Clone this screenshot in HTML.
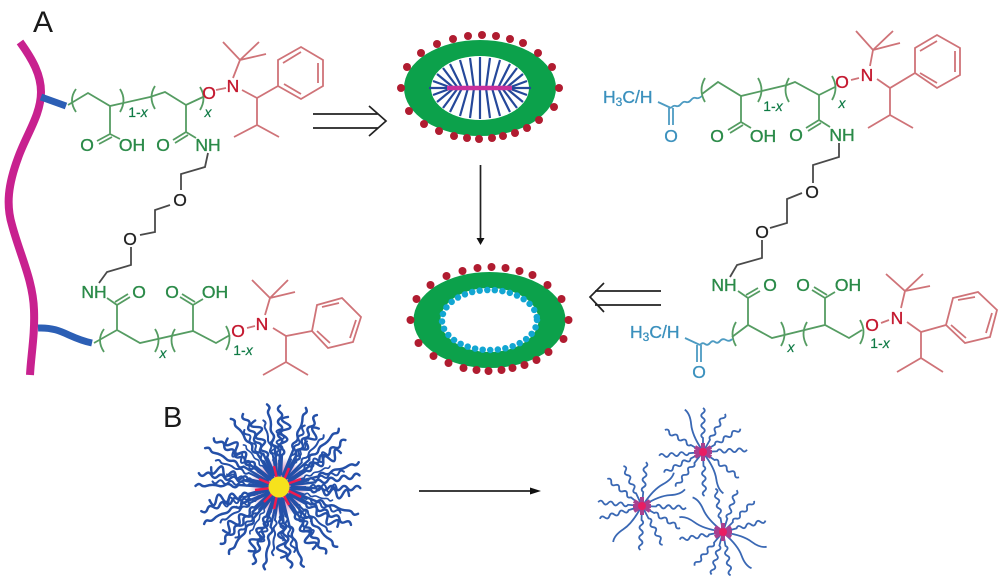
<!DOCTYPE html>
<html><head><meta charset="utf-8"><style>
html,body{margin:0;padding:0;background:#fff}
svg{display:block;filter:blur(.35px)}
text{font-family:"Liberation Sans",sans-serif}
.g{fill:none;stroke:#559c62;stroke-width:1.8}
.r{fill:none;stroke:#cf7378;stroke-width:1.8}
.b{fill:none;stroke:#4a4a4a;stroke-width:1.8}
.c{fill:none;stroke:#4d9bc2;stroke-width:1.8}
.tg{fill:#2a8a48;font-size:17.5px;text-anchor:middle;stroke:#2a8a48;stroke-width:.35}
.tr{fill:#c4182f;font-size:17.5px;text-anchor:middle;stroke:#c4182f;stroke-width:.35}
.tk{fill:#222;font-size:17.5px;text-anchor:middle;stroke:#222;stroke-width:.3}
.tc{fill:#3a90bd;font-size:17.5px;stroke:#3a90bd;stroke-width:.3}
.tx{fill:#0f7a45;font-size:14px;text-anchor:middle;stroke:#0f7a45;stroke-width:.2}
.k{fill:none;stroke:#222;stroke-width:1.7}
</style></head><body>
<svg width="1000" height="584" viewBox="0 0 1000 584" xmlns="http://www.w3.org/2000/svg">
<defs>
<path id="a" d="M12 0 L34 1 q3 -4 6 0 t6 0 t6 0 t6 0 t6 0 t6 0 t6 0"/>
<path id="b" d="M12 0 L30 -2 q3 4 6 -1 t6 1 t6 -1 t6 1 t6 -1 t6 1"/>
<path id="c" d="M12 0 L38 2 q3 -4 6 -1 t6 1 t6 -1 t6 1 t6 -1 t5 1 t5 -1"/>
<path id="s" d="M3 0 L14 0 q2.500 -3.500 5 0 t5 0 t5 0 t5 0 t5 0 t5 0"/>
<path id="t" d="M3 0 Q20 -2 30 2 T46 3"/>
<g id="dots" fill="#b01c30">
<circle cx="401" cy="88" r="4"/><circle cx="407" cy="67" r="4"/><circle cx="421" cy="53" r="4"/><circle cx="437" cy="44" r="4"/><circle cx="453" cy="39" r="4"/><circle cx="468" cy="36" r="4"/><circle cx="482" cy="35" r="4"/><circle cx="496" cy="36" r="4"/><circle cx="510" cy="39" r="4"/><circle cx="523" cy="43" r="4"/><circle cx="538" cy="53" r="4"/><circle cx="552" cy="67" r="4"/><circle cx="559" cy="88" r="4"/><circle cx="554" cy="107" r="4"/><circle cx="539" cy="120" r="4"/><circle cx="527" cy="128" r="4"/><circle cx="515" cy="133" r="4"/><circle cx="503" cy="136" r="4"/><circle cx="492" cy="138" r="4"/><circle cx="479" cy="139" r="4"/><circle cx="467" cy="138" r="4"/><circle cx="454" cy="136" r="4"/><circle cx="439" cy="131" r="4"/><circle cx="424" cy="124" r="4"/><circle cx="409" cy="111" r="4"/>
</g>
<radialGradient id="pk"><stop offset="0" stop-color="#e8206a"/><stop offset=".55" stop-color="#d9488f" stop-opacity=".6"/><stop offset="1" stop-color="#8a4aa5" stop-opacity="0"/></radialGradient>
</defs>

<text x="33" y="32" font-size="30" fill="#1a1a1a">A</text>
<text x="163" y="427" font-size="29" fill="#1a1a1a">B</text>

<!-- left backbone -->
<path d="M20 42 C33 60 41 75 41 92 C41 115 26 135 18 158 C8 185 6 205 12 225 C20 255 33 280 34 310 C35 335 31 355 30 375" fill="none" stroke="#c8218f" stroke-width="8"/>
<path d="M41 97 L66 106" fill="none" stroke="#2c5fb5" stroke-width="7"/>
<path d="M38 328 C62 327 68 338 92 343" fill="none" stroke="#2c5fb5" stroke-width="7"/>

<!-- top-left polymer -->
<path class="g" d="M68 105 L88 93 L110 106 L150 97 L165 92 L186 105 L203 97 M110 106 V134 L120 139 M110 134 L97 141 M112 137 L99 144 M186 105 V132 L196 138 M186 132 L173 140 M188 135 L175 143"/>
<path class="g" d="M76 89 Q68 100 76 112 M120 89 Q127 100 120 112 M155 86 Q148 97 155 109 M200 87 Q207 98 200 110"/>
<text class="tg" x="87" y="151">O</text><text class="tg" x="132" y="151">OH</text>
<text class="tg" x="163" y="151">O</text><text class="tg" x="208" y="151">NH</text>
<text class="tx" x="138" y="117">1-<tspan font-style="italic">x</tspan></text><text class="tx" x="208" y="117" font-style="italic">x</text>
<path class="b" d="M208 153 L205 167 L181 174 V190 M170 205 L155 210 V232 L140 235 M131 247 V265 L107 272 L99 283"/>
<text class="tk" x="180" y="206">O</text><text class="tk" x="130" y="245">O</text>
<text class="tr" x="209" y="99">O</text><text class="tr" x="233" y="92" font-size="18">N</text>
<path class="r" d="M216 90 L226 88 M233 78 L240 60 M223 42 L240 60 L259 42 M240 60 L266 54 M242 90 L257 98 L278 86 L278 60 L301 47 L323 60 L323 86 L301 99 L278 86 M283 63 L301 52 M318 63 V83 M301 94 L284 84 M257 98 V125 L234 137 M257 125 L279 137"/>

<!-- bottom-left polymer -->
<text class="tg" x="94" y="298">NH</text><text class="tg" x="139" y="298">O</text>
<text class="tg" x="172" y="298">O</text><text class="tg" x="215" y="298">OH</text>
<path class="g" d="M94 343 L117 330 L140 343 L193 331 L216 343 L230 335 M117 330 V305 L107 298 M117 305 L130 297 M115 302 L128 294 M193 331 V305 L203 299 M193 305 L180 297 M195 302 L182 294"/>
<path class="g" d="M104 329 Q96 340 104 352 M155 329 Q162 340 155 352 M175 329 Q168 340 175 352 M226 326 Q233 338 226 350"/>
<text class="tx" x="163" y="358" font-style="italic">x</text><text class="tx" x="243" y="355">1-<tspan font-style="italic">x</tspan></text>
<text class="tr" x="238" y="337">O</text><text class="tr" x="262" y="330" font-size="18">N</text>
<path class="r" d="M247 328 L255 326 M265 315 L270 298 M252 280 L270 298 L288 280 M270 298 L295 292 M273 328 L286 336 L312 331 L317 305 L342 298 L361 317 L353 342 L328 348 L312 331 M322 307 L339 303 M356 320 L350 338 M330 343 L317 331 M286 336 V362 L263 375 M286 362 L308 375"/>

<!-- top-right polymer -->
<text class="tc" x="603" y="103" font-size="18">H<tspan font-size="12" dy="3">3</tspan><tspan dy="-3">C/H</tspan></text>
<text class="tc" x="671" y="142" text-anchor="middle">O</text>
<path class="c" d="M658 102 L671 108 M669 108 V125 M673 108 V125 M671 108 q2.500 -3 5 -2 t5 -2 t5 -2 t5 -2 t5 -2 t6 -2"/>
<path class="g" d="M702 94 L718 82 L741 96 L787 85 L795 82 L819 95 L835 87 M741 96 V122 L751 128 M741 122 L728 130 M743 125 L730 133 M819 95 V120 L830 127 M819 120 L806 128 M821 123 L808 131"/>
<path class="g" d="M705 78 Q698 90 705 102 M758 78 Q765 90 758 102 M789 78 Q782 90 789 102 M832 76 Q839 88 832 100"/>
<text class="tg" x="717" y="142">O</text><text class="tg" x="763" y="142">OH</text>
<text class="tg" x="796" y="141">O</text><text class="tg" x="842" y="141">NH</text>
<text class="tx" x="773" y="111">1-<tspan font-style="italic">x</tspan></text><text class="tx" x="842" y="108" font-style="italic">x</text>
<path class="b" d="M839 143 V157 L813 165 V183 M802 193 L787 199 V223 L770 228 M762 240 V258 L737 265 L730 277"/>
<text class="tk" x="812" y="198">O</text><text class="tk" x="762" y="238">O</text>
<text class="tr" x="842" y="88">O</text><text class="tr" x="867" y="81" font-size="18">N</text>
<path class="r" d="M851 80 L859 78 M870 66 L873 50 M856 31 L873 50 L893 31 M873 50 L900 43 M877 79 L890 88 L915 73 V48 L937 35 L960 48 V75 L937 88 L915 73 M920 51 L937 41 M955 51 V72 M937 83 L920 73 M890 88 V115 L868 128 M890 115 L913 128"/>

<!-- bottom-right polymer -->
<text class="tg" x="724" y="291">NH</text><text class="tg" x="770" y="291">O</text>
<text class="tg" x="803" y="291">O</text><text class="tg" x="848" y="291">OH</text>
<path class="g" d="M732 337 L748 325 L772 338 L825 325 L849 338 L862 330 M748 325 V298 L738 291 M748 298 L760 291 M746 295 L758 288 M825 325 V298 L835 292 M825 298 L812 290 M827 295 L814 287"/>
<path class="g" d="M736 322 Q729 334 736 346 M781 322 Q788 334 781 346 M807 322 Q800 334 807 346 M860 320 Q867 332 860 344"/>
<text class="tx" x="791" y="352" font-style="italic">x</text><text class="tx" x="880" y="348">1-<tspan font-style="italic">x</tspan></text>
<text class="tc" x="630" y="338" font-size="18">H<tspan font-size="12" dy="3">3</tspan><tspan dy="-3">C/H</tspan></text>
<text class="tc" x="699" y="378" text-anchor="middle">O</text>
<path class="c" d="M685 338 L700 345 M697 345 V362 M701 345 V362 M700 345 q2.500 -3 5 -1 t5 -1 t5 -1 t5 -1 t6 -1 t6 -1"/>
<text class="tr" x="872" y="331">O</text><text class="tr" x="897" y="324" font-size="18">N</text>
<path class="r" d="M881 323 L889 320 M901 308 L905 291 M886 274 L905 291 L923 274 M905 291 L930 286 M907 322 L921 332 L946 325 L953 298 L978 292 L997 310 L990 337 L965 343 L946 325 M958 300 L975 297 M992 313 L986 333 M966 338 L951 325 M921 332 V358 L897 372 M921 358 L943 372"/>

<!-- arrows -->
<path class="k" d="M313 114 H378 M313 128 H378 M369 106 L386 121 L369 136"/>
<path class="k" d="M661 291 H595 M661 305 H595 M604 283 L590 297 L604 312"/>
<path class="k" d="M480.500 165 V239"/><path d="M476.500 238 H484.500 L480.500 245 Z" fill="#111"/>
<path class="k" d="M419 491 H531"/><path d="M530 487.500 L541 491 L530 494.500 Z" fill="#111"/>

<!-- top micelle -->
<ellipse cx="480" cy="88" rx="76" ry="48" fill="#0ca14b"/>
<ellipse cx="480" cy="88" rx="49" ry="32" fill="#fff"/>
<path fill="none" stroke="#25489a" stroke-width="2.200" d="M429 88 H531 M508 88 L527 81 M506 88 L523 74 M502 88 L517 68 M498 88 L510 64 M492 88 L500 60 M486 88 L490 58 M480 88 V57 M474 88 L470 58 M468 88 L460 60 M462 88 L450 64 M458 88 L443 68 M454 88 L437 74 M452 88 L433 81 M508 88 L527 95 M506 88 L523 102 M502 88 L517 108 M498 88 L510 112 M492 88 L500 116 M486 88 L490 118 M480 88 V119 M474 88 L470 118 M468 88 L460 116 M462 88 L450 112 M458 88 L443 108 M454 88 L437 102 M452 88 L433 95"/>
<path d="M447 88 H512" stroke="#c8309c" stroke-width="4.500" fill="none"/>
<use href="#dots"/>

<!-- bottom micelle -->
<ellipse cx="489.500" cy="320" rx="76" ry="48" fill="#0ca14b"/>
<ellipse cx="489.500" cy="320" rx="49" ry="32" fill="#fff"/>
<ellipse cx="489.500" cy="320" rx="47.500" ry="30" fill="none" stroke="#12a6d2" stroke-width="6.500" stroke-linecap="round" stroke-dasharray="0 7.600"/>
<use href="#dots" transform="translate(9.500 232)"/>

<!-- big star -->
<g transform="translate(279 487)" fill="none" stroke="#2450a8" stroke-width="2.300">
<circle r="30" fill="url(#pk)" stroke="none"/>
<g stroke-linecap="round" transform="scale(1.07)">
<use href="#a" transform="rotate(0)"/><use href="#b" transform="rotate(9)"/><use href="#c" transform="rotate(18)"/><use href="#a" transform="rotate(27)"/><use href="#b" transform="rotate(36)"/><use href="#c" transform="rotate(45)"/><use href="#a" transform="rotate(54)"/><use href="#b" transform="rotate(63)"/><use href="#c" transform="rotate(72)"/><use href="#a" transform="rotate(81)"/><use href="#b" transform="rotate(90)"/><use href="#c" transform="rotate(99)"/><use href="#a" transform="rotate(108)"/><use href="#b" transform="rotate(117)"/><use href="#c" transform="rotate(126)"/><use href="#a" transform="rotate(135)"/><use href="#b" transform="rotate(144)"/><use href="#c" transform="rotate(153)"/><use href="#a" transform="rotate(162)"/><use href="#b" transform="rotate(171)"/><use href="#c" transform="rotate(180)"/><use href="#a" transform="rotate(189)"/><use href="#b" transform="rotate(198)"/><use href="#c" transform="rotate(207)"/><use href="#a" transform="rotate(216)"/><use href="#b" transform="rotate(225)"/><use href="#c" transform="rotate(234)"/><use href="#a" transform="rotate(243)"/><use href="#b" transform="rotate(252)"/><use href="#c" transform="rotate(261)"/><use href="#a" transform="rotate(270)"/><use href="#b" transform="rotate(279)"/><use href="#c" transform="rotate(288)"/><use href="#a" transform="rotate(297)"/><use href="#b" transform="rotate(306)"/><use href="#c" transform="rotate(315)"/><use href="#a" transform="rotate(324)"/><use href="#b" transform="rotate(333)"/><use href="#c" transform="rotate(342)"/><use href="#a" transform="rotate(351)"/>
<g transform="scale(.82)">
<use href="#b" transform="rotate(4)"/><use href="#a" transform="rotate(22)"/><use href="#c" transform="rotate(40)"/><use href="#b" transform="rotate(58)"/><use href="#a" transform="rotate(76)"/><use href="#c" transform="rotate(94)"/><use href="#b" transform="rotate(112)"/><use href="#a" transform="rotate(130)"/><use href="#c" transform="rotate(148)"/><use href="#b" transform="rotate(166)"/><use href="#a" transform="rotate(184)"/><use href="#c" transform="rotate(202)"/><use href="#b" transform="rotate(220)"/><use href="#a" transform="rotate(238)"/><use href="#c" transform="rotate(256)"/><use href="#b" transform="rotate(274)"/><use href="#a" transform="rotate(292)"/><use href="#c" transform="rotate(310)"/><use href="#b" transform="rotate(328)"/><use href="#a" transform="rotate(346)"/>
</g>
<g transform="scale(.66)">
<use href="#c" transform="rotate(13)"/><use href="#b" transform="rotate(49)"/><use href="#a" transform="rotate(85)"/><use href="#c" transform="rotate(121)"/><use href="#b" transform="rotate(157)"/><use href="#a" transform="rotate(193)"/><use href="#c" transform="rotate(229)"/><use href="#b" transform="rotate(265)"/><use href="#a" transform="rotate(301)"/><use href="#c" transform="rotate(337)"/>
</g>
</g>
<path stroke="#ee1b4f" stroke-width="2.500" d="M8 -3 L22 -8 M5 -7 L10 -19 M-2 -8 L-5 -21 M-8 -3 L-20 -8 M-8 1 L-24 3 M-6 6 L-15 15 M-2 8 L-5 22 M4 7 L10 18 M8 3 L22 10"/>
<circle r="10.500" fill="#f6e21c" stroke="none"/>
</g>

<!-- small stars -->
<g fill="none" stroke="#3a68b4" stroke-width="1.800">
<g transform="translate(703 452)">
<use href="#s" transform="rotate(-90)"/><use href="#t" transform="rotate(-117)"/><use href="#s" transform="rotate(-150)"/><use href="#s" transform="rotate(175)"/><use href="#s" transform="rotate(152)"/><use href="#s" transform="rotate(128)"/><use href="#s" transform="rotate(88)"/><use href="#t" transform="rotate(60)"/><use href="#s" transform="rotate(35)"/><use href="#s" transform="rotate(-3)"/><use href="#s" transform="rotate(-32)"/><use href="#s" transform="rotate(-60)"/>
<path d="M-8 -5 L8 5 M-8 5 L8 -5 M0 -9 V9 M-9 0 H9" stroke="#a8408f" stroke-width="4"/><circle r="4" fill="#e81e63" stroke="none"/>
</g>
<g transform="translate(642 506)">
<use href="#s" transform="rotate(-85)"/><use href="#s" transform="rotate(-115)"/><use href="#s" transform="rotate(-142)"/><use href="#s" transform="rotate(-175)"/><use href="#s" transform="rotate(163)"/><use href="#t" transform="rotate(125)"/><use href="#s" transform="rotate(92)"/><use href="#s" transform="rotate(62)"/><use href="#s" transform="rotate(30)"/><use href="#s" transform="rotate(2)"/><use href="#t" transform="rotate(-25)"/><use href="#t" transform="rotate(-50)"/>
<path d="M-8 -5 L8 5 M-8 5 L8 -5 M0 -9 V9 M-9 0 H9" stroke="#a8408f" stroke-width="4"/><circle r="4" fill="#e81e63" stroke="none"/>
</g>
<g transform="translate(723 532)">
<use href="#s" transform="rotate(-100)"/><use href="#s" transform="rotate(-72)"/><use href="#s" transform="rotate(-45)"/><use href="#s" transform="rotate(-15)"/><use href="#t" transform="rotate(15)"/><use href="#t" transform="rotate(48)"/><use href="#s" transform="rotate(80)"/><use href="#s" transform="rotate(105)"/><use href="#s" transform="rotate(130)"/><use href="#s" transform="rotate(170)"/><use href="#t" transform="rotate(195)"/><use href="#t" transform="rotate(225)"/>
<path d="M-8 -5 L8 5 M-8 5 L8 -5 M0 -9 V9 M-9 0 H9" stroke="#a8408f" stroke-width="4"/><circle r="4" fill="#e81e63" stroke="none"/>
</g>
</g>
</svg>
</body></html>
